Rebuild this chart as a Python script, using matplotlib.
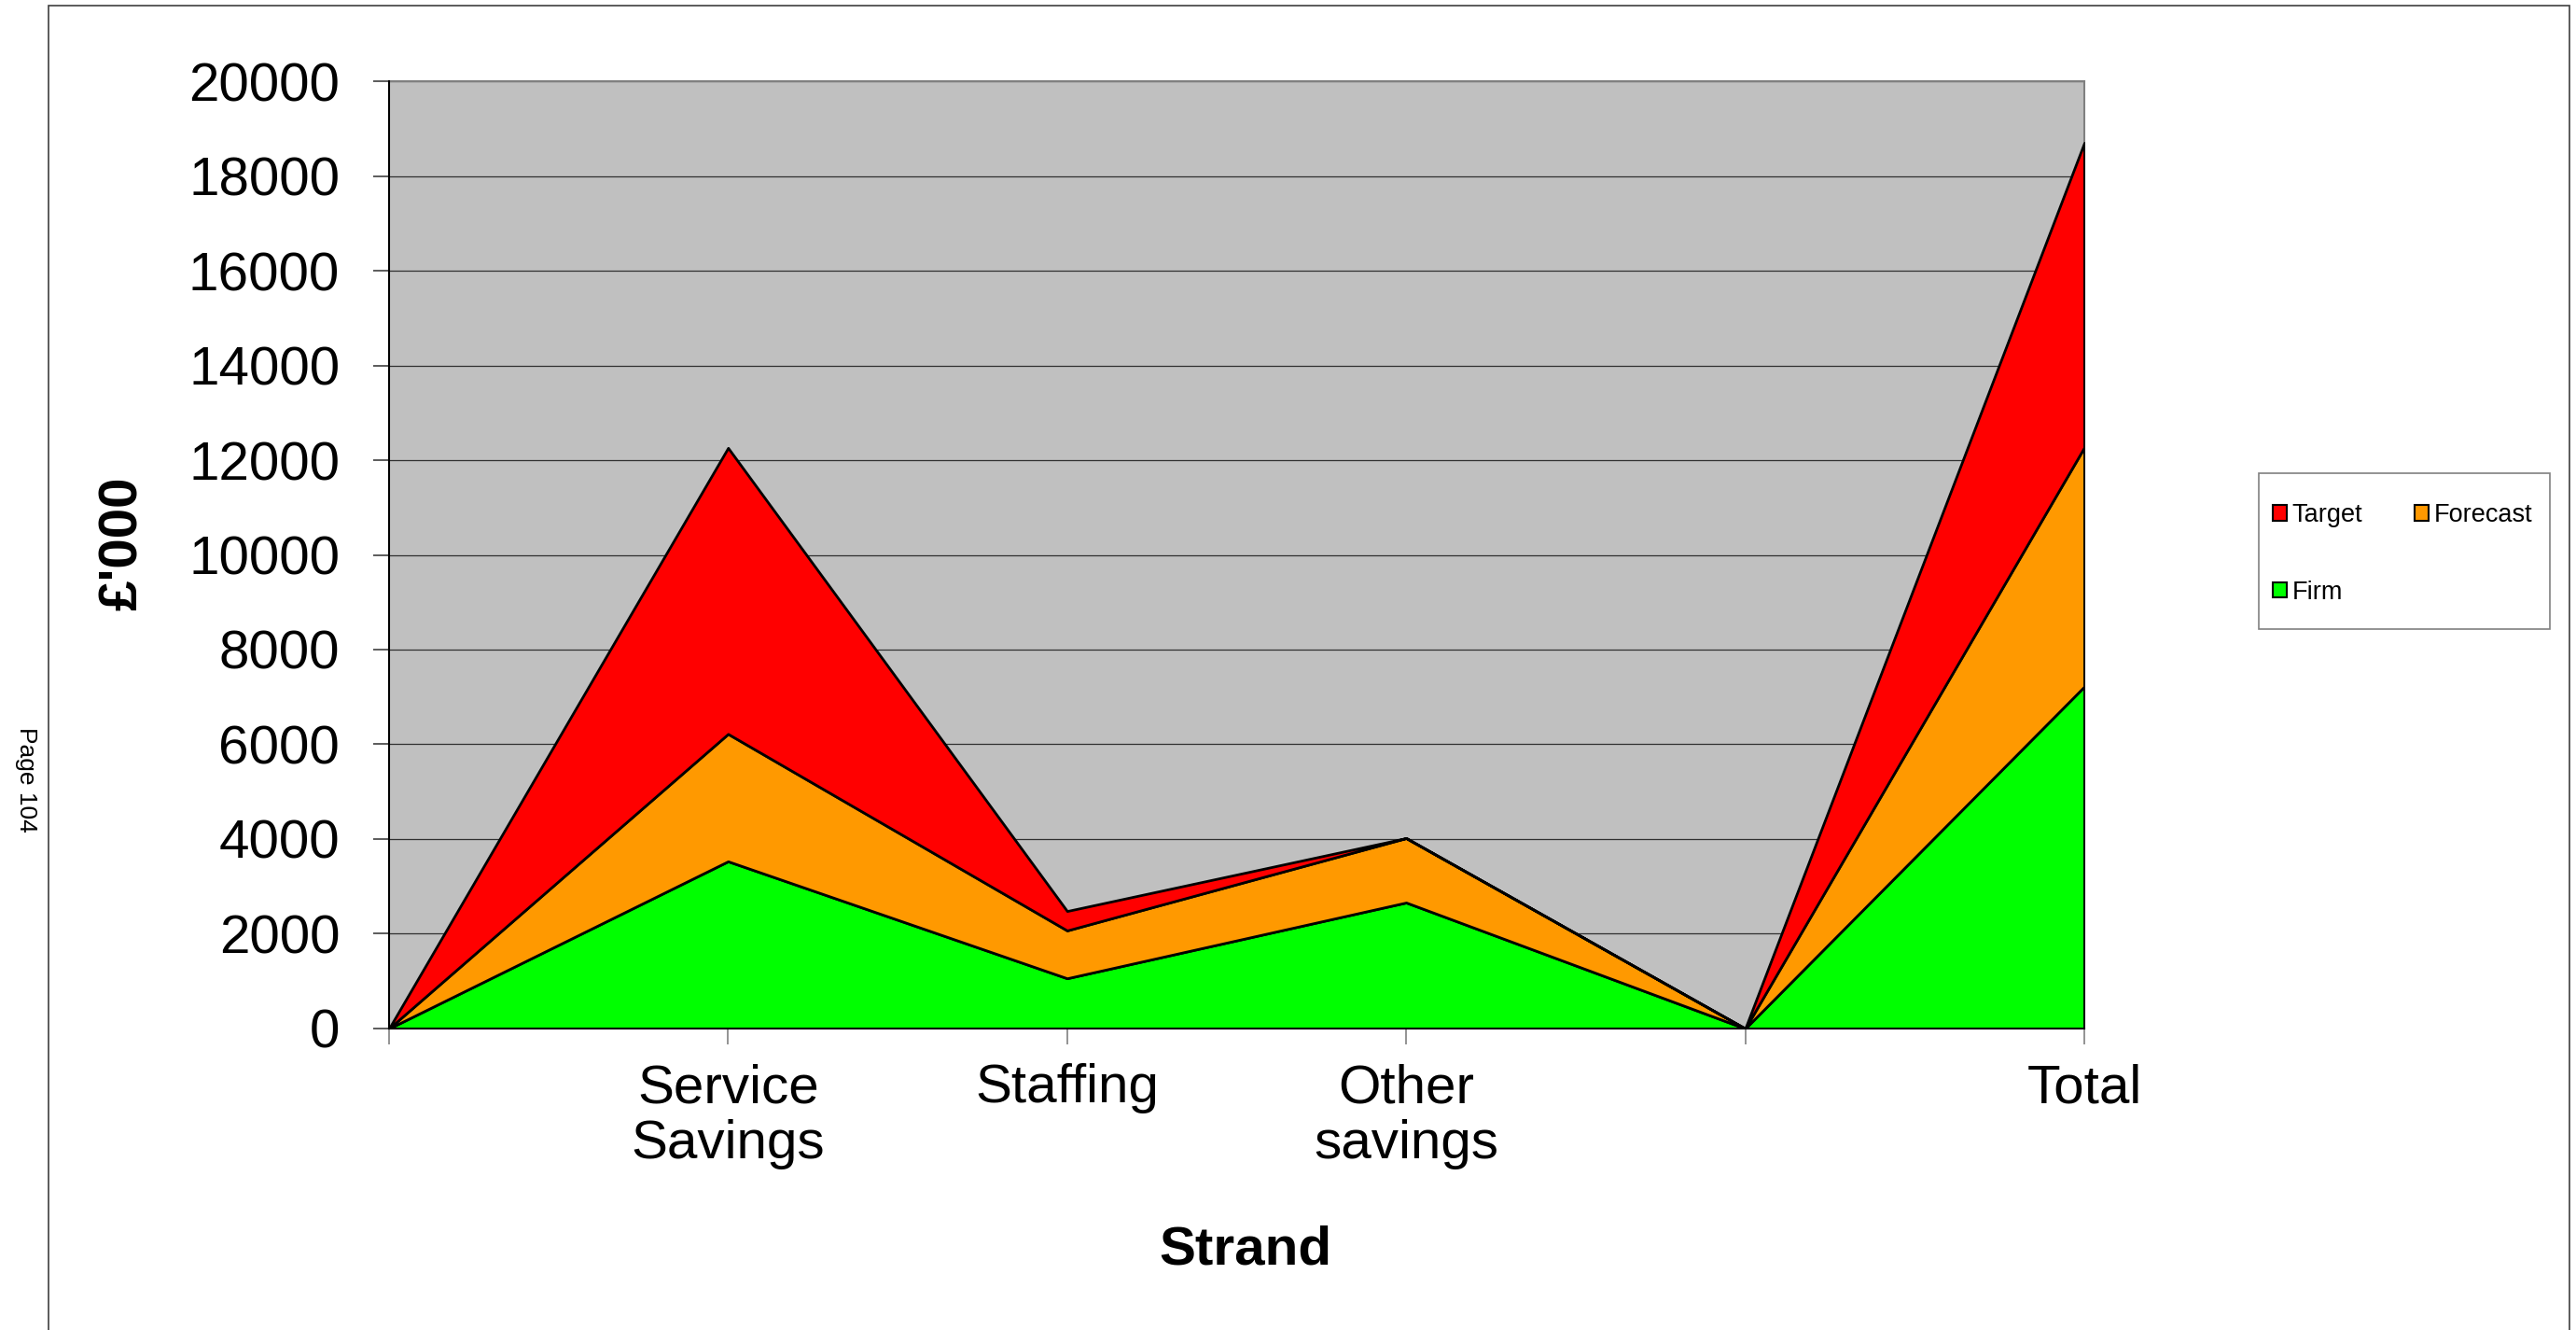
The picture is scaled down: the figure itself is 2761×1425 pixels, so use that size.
import matplotlib
matplotlib.use("Agg")
import matplotlib.pyplot as plt
from matplotlib.patches import Patch, Rectangle

plt.rcParams["font.family"] = ["Liberation Sans", "DejaVu Sans"]

# values in £'000
categories = ["", "Service\nSavings", "Staffing", "Other\nsavings", "", "Total"]
firm = [0, 3530, 1060, 2660, 0, 7220]
forecast = [0, 2690, 1010, 1360, 0, 5050]
target = [0, 6040, 410, 0, 0, 6430]

series_names = ["Firm", "Forecast", "Target"]
colors = ["#00FF00", "#FF9900", "#FF0000"]

W, H = 2761, 1425
fig = plt.figure(figsize=(W / 100, H / 100), dpi=100)
ax = fig.add_axes([0.1510, 0.2267, 0.6581, 0.7122])
ax.set_facecolor("#C0C0C0")

x = list(range(len(categories)))
ax.stackplot(x, firm, forecast, target, colors=colors, labels=series_names,
             edgecolor="black", linewidth=2.0, zorder=3)

ax.set_xlim(0, len(categories) - 1)
ax.set_ylim(0, 20000)
ax.set_yticks(range(0, 20001, 2000))
ax.set_xticks(x)
ax.set_xticklabels(categories, fontsize=42, linespacing=1.13)
ax.tick_params(axis="y", labelsize=42, length=12, width=1.2, pad=26, color="#404040")
ax.tick_params(axis="x", length=12, width=1.2, pad=15, color="#808080")

ax.grid(axis="y", color="#303030", linewidth=0.9, zorder=1)
ax.set_axisbelow(True)

for side in ["top", "right"]:
    ax.spines[side].set_color("#808080")
    ax.spines[side].set_linewidth(1.5)
for side in ["left", "bottom"]:
    ax.spines[side].set_color("black")
    ax.spines[side].set_linewidth(1.5)
    ax.spines[side].set_zorder(4)

ax.set_xlabel("Strand", fontsize=42, fontweight="bold", va="center")
ax.xaxis.set_label_coords(0.505, -0.234)
ax.set_ylabel("£'000", fontsize=42, fontweight="bold", va="center")
ax.yaxis.set_label_coords(-0.157, 0.512)

# legend laid out row-wise: Target, Forecast / Firm
handles = [
    Patch(facecolor=colors[2], edgecolor="black", linewidth=1.5),
    Patch(facecolor=colors[0], edgecolor="black", linewidth=1.5),
    Patch(facecolor=colors[1], edgecolor="black", linewidth=1.5),
]
labels = ["Target", "Firm", "Forecast"]
fig.legend(handles, labels, ncol=2, loc="upper left",
           bbox_to_anchor=(2436 / W, 1 - 539 / H),
           fontsize=19.5, frameon=False,
           handlelength=0.55, handleheight=0.55, handletextpad=0.22,
           columnspacing=2.06, labelspacing=2.1, borderpad=0,
           borderaxespad=0)
fig.add_artist(Rectangle((2421 / W, 1 - 674 / H), (2733 - 2421) / W, (674 - 507) / H,
                         transform=fig.transFigure, facecolor="white",
                         edgecolor="#808080", linewidth=1.2, zorder=0))

# page frame and page number
fig.add_artist(Rectangle((52 / W, -0.05), (2754 - 52) / W, 1.05 - 6 / H,
                         transform=fig.transFigure, fill=False,
                         edgecolor="#404040", linewidth=1.2))
fig.text(28 / W, 1 - 835 / H, "Page 104", rotation=270, fontsize=19,
         ha="center", va="center")

fig.savefig("out.png", dpi=100)
